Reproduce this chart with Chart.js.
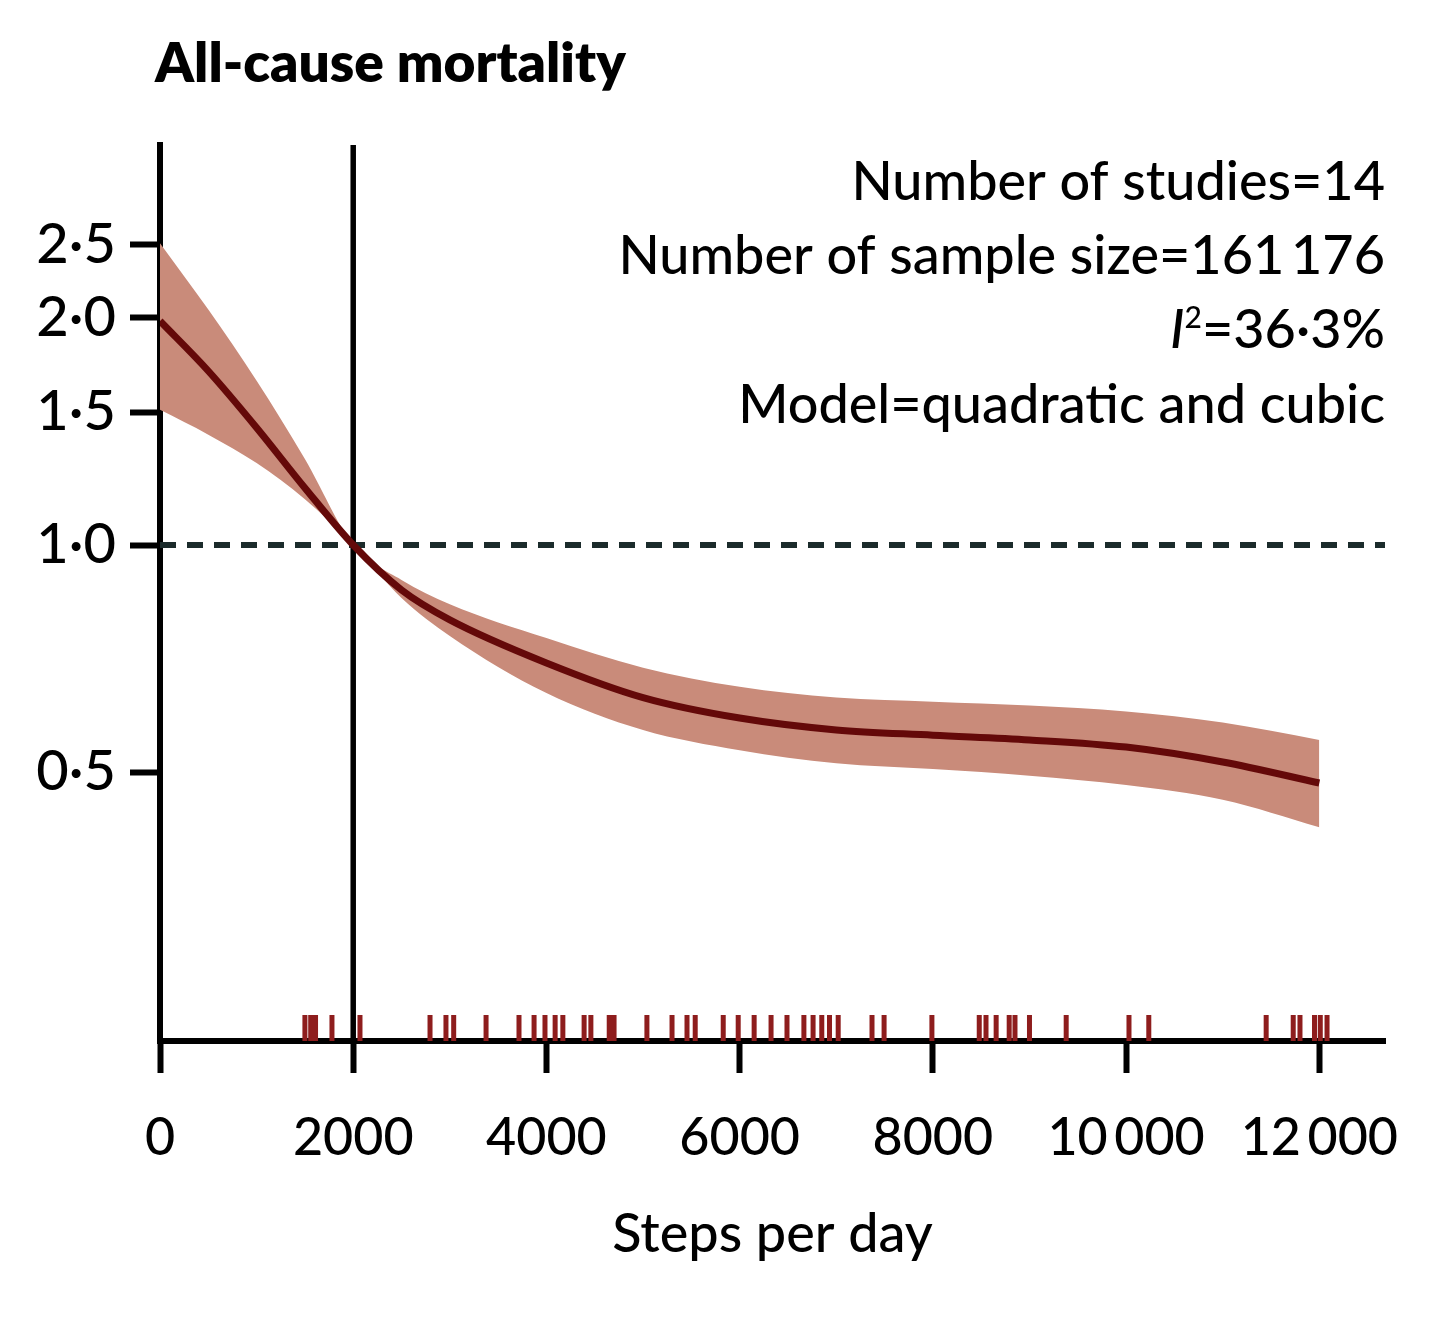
<!DOCTYPE html>
<html>
<head>
<meta charset="utf-8">
<title>All-cause mortality</title>
<script src="https://cdn.jsdelivr.net/npm/chart.js@4.4.1/dist/chart.umd.min.js"></script>
<style>
  html, body { margin: 0; padding: 0; background: #fff; }
  #wrap { width: 1456px; height: 1333px; }
</style>
</head>
<body>
<div id="wrap"><canvas id="chart-mortality" width="1456" height="1333"></canvas></div>
<script>
// values (risk ratio vs steps per day)
const steps = [0, 500, 1000, 1500, 2000, 2500, 3000, 4000, 5000, 6000, 7000, 8000, 9000, 10000, 11000, 12000];
const riskRatio = [1.98, 1.70, 1.43, 1.19, 1.00, 0.872, 0.796, 0.698, 0.628, 0.590, 0.569, 0.560, 0.552, 0.540, 0.516, 0.484];
const ciUpper = [2.51, 2.05, 1.65, 1.30, 1.00, 0.899, 0.835, 0.753, 0.688, 0.649, 0.628, 0.620, 0.613, 0.602, 0.582, 0.552];
const ciLower = [1.51, 1.40, 1.284, 1.15, 1.00, 0.851, 0.758, 0.637, 0.569, 0.535, 0.514, 0.505, 0.495, 0.481, 0.460, 0.423];

// step counts of the individual study estimates (rug along the x axis)
const rugSteps = [1500, 1560, 1610, 1780, 2070, 2795, 2960, 3040, 3375, 3716, 3872, 3985, 4090, 4170,
  4390, 4460, 4650, 4700, 5040, 5300, 5455, 5540, 5830, 5985, 6150, 6325, 6490, 6665, 6760, 6850,
  6930, 7020, 7370, 7495, 7990, 8480, 8550, 8655, 8790, 8850, 9000, 9380, 10030, 10235, 11450,
  11730, 11800, 11950, 12010, 12080];

const xTicks = [0, 2000, 4000, 6000, 8000, 10000, 12000];
const xTickLabels = ['0', '2000', '4000', '6000', '8000', '10\u2009000', '12\u2009000'];
const yTicks = [0.5, 1.0, 1.5, 2.0, 2.5];
const yTickLabels = ['0\u00b75', '1\u00b70', '1\u00b75', '2\u00b70', '2\u00b75'];

const xMin = 0, xMax = 12680;
const yMin = 0.2204, yMax = 3.386;
const refValue = 1.0;
const refSteps = 2000;

const titleText = 'All-cause mortality';
const xTitle = 'Steps per day';
const notes = ['Number of studies=14', 'Number of sample size=161\u2009176', null, 'Model=quadratic and cubic'];
const heterogeneity = '=36\u00b73%';

const FONT = 'Lato';
const lineColor = '#640909';
const bandColor = '#c98b7a';
const rugColor = '#8e1d1d';

function toPoints(xs, ys) {
    return xs.map((x, i) => ({ x, y: ys[i] }));
}

const overlay = {
    id: 'overlay',
    afterDatasetsDraw(chart) {
        const { ctx, chartArea, scales } = chart;
        ctx.save();
        ctx.strokeStyle = rugColor;
        ctx.lineWidth = 5;
        ctx.beginPath();
        for (const s of rugSteps) {
            const px = scales.x.getPixelForValue(s);
            ctx.moveTo(px, chartArea.bottom - 26);
            ctx.lineTo(px, chartArea.bottom);
        }
        ctx.stroke();
        ctx.restore();
    },
    afterDraw(chart) {
        const { ctx, chartArea } = chart;
        ctx.save();
        ctx.fillStyle = '#000';
        ctx.textBaseline = 'alphabetic';

        ctx.font = `800 55px ${FONT}`;
        ctx.textAlign = 'left';
        ctx.fillText(titleText, 155, 82);

        const right = chartArea.right;
        const baselines = [200, 274, 348, 423];
        const noteFont = `500 54px ${FONT}`;
        ctx.font = noteFont;
        ctx.textAlign = 'right';
        notes.forEach((t, i) => {
            if (t) ctx.fillText(t, right, baselines[i]);
        });

        // I² line: italic I, superscript 2, then the value
        ctx.textAlign = 'left';
        const y = baselines[2];
        ctx.font = noteFont;
        const wRest = ctx.measureText(heterogeneity).width;
        ctx.font = `500 30px ${FONT}`;
        const wSup = ctx.measureText('2').width;
        ctx.font = `italic 500 54px ${FONT}`;
        const wI = ctx.measureText('I').width;
        let x = right - wRest - wSup - wI;
        ctx.fillText('I', x, y);
        x += wI;
        ctx.font = `500 30px ${FONT}`;
        ctx.fillText('2', x, y - 20);
        x += wSup;
        ctx.font = noteFont;
        ctx.fillText(heterogeneity, x, y);
        ctx.restore();
    }
};

const data = {
    datasets: [
        {
            label: 'Risk ratio',
            data: toPoints(steps, riskRatio),
            borderColor: lineColor,
            borderWidth: 7,
            pointRadius: 0,
            cubicInterpolationMode: 'monotone',
            fill: false,
        },
        {
            label: 'Reference',
            data: [{ x: xMin, y: refValue }, { x: xMax, y: refValue }],
            borderColor: '#1b2b2b',
            borderWidth: 6,
            borderDash: [16, 11],
            pointRadius: 0,
            fill: false,
        },
        {
            label: 'Reference steps',
            data: [{ x: refSteps, y: yMin }, { x: refSteps, y: yMax }],
            borderColor: '#000',
            borderWidth: 5.5,
            pointRadius: 0,
            fill: false,
        },
        {
            label: 'Lower CI',
            data: toPoints(steps, ciLower),
            borderWidth: 0,
            borderColor: 'rgba(0,0,0,0)',
            pointRadius: 0,
            cubicInterpolationMode: 'monotone',
            fill: false,
        },
        {
            label: 'Upper CI',
            data: toPoints(steps, ciUpper),
            borderWidth: 0,
            borderColor: 'rgba(0,0,0,0)',
            backgroundColor: bandColor,
            pointRadius: 0,
            cubicInterpolationMode: 'monotone',
            fill: '-1',
        },
    ]
};

const options = {
    responsive: false,
    devicePixelRatio: 1,
    animation: false,
    layout: { padding: { left: 0, right: 71, top: 145, bottom: 0 } },
    plugins: {
        legend: { display: false },
        tooltip: { enabled: false },
    },
    scales: {
        x: {
            type: 'linear',
            min: xMin,
            max: xMax,
            afterBuildTicks(scale) {
                scale.ticks = xTicks.map(value => ({ value }));
            },
            afterFit(scale) {
                scale.height = 292;
            },
            ticks: {
                autoSkip: false,
                maxRotation: 0,
                padding: 34,
                color: '#000',
                font: { family: FONT, size: 52, weight: 500 },
                callback: (value) => xTickLabels[xTicks.indexOf(value)],
            },
            grid: {
                drawOnChartArea: false,
                drawTicks: true,
                tickLength: 32,
                tickWidth: 6,
                tickColor: '#000',
            },
            border: { display: true, color: '#000', width: 6 },
            title: {
                display: true,
                text: xTitle,
                color: '#000',
                font: { family: FONT, size: 54, weight: 500 },
                padding: { top: 0, bottom: 66 },
            },
        },
        y: {
            type: 'logarithmic',
            min: yMin,
            max: yMax,
            afterBuildTicks(scale) {
                scale.ticks = yTicks.map(value => ({ value }));
            },
            afterFit(scale) {
                scale.width = 160;
            },
            ticks: {
                padding: 14,
                color: '#000',
                font: { family: FONT, size: 56, weight: 500 },
                callback: (value) => yTickLabels[yTicks.indexOf(value)],
            },
            grid: {
                drawOnChartArea: false,
                drawTicks: true,
                tickLength: 30,
                tickWidth: 6,
                tickColor: '#000',
            },
            border: { display: true, color: '#000', width: 6 },
        },
    },
};

const elChart = document.getElementById('chart-mortality');
const chart = new Chart(elChart, { type: 'line', data, options, plugins: [overlay] });
</script>
</body>
</html>
